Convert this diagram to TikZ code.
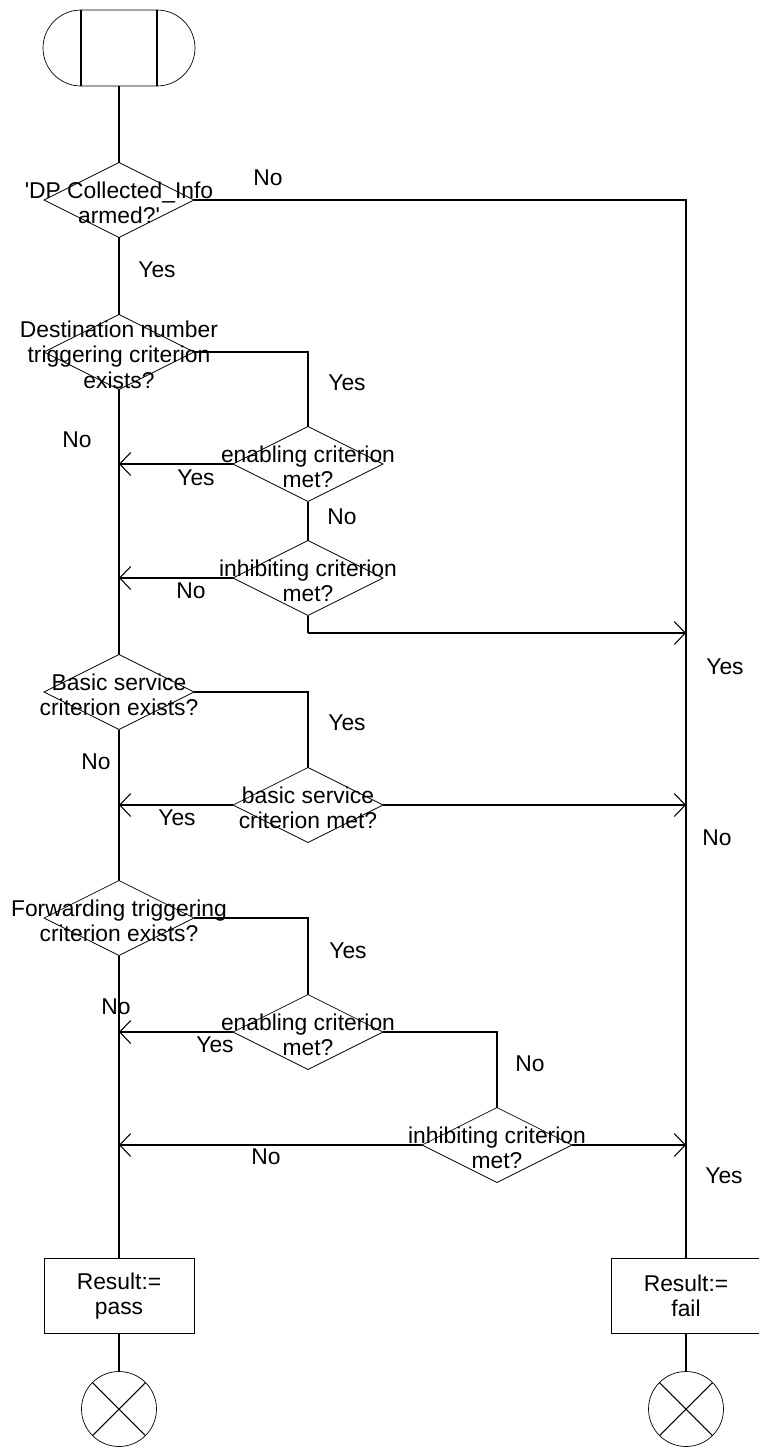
\documentclass[tikz,border=0pt]{standalone}
\usepackage{fontspec}
\setmainfont{Liberation Sans}[Ligatures=TeXOff]
\usetikzlibrary{arrows.meta, positioning, calc, shapes.geometric, shapes.misc}
\tikzset{
  dec/.style={
    draw, diamond, minimum width=3cm, minimum height=1.5cm,
    inner sep=0pt, outer sep=0pt
  },
  dtxt/.style={font=\fontsize{13}{14.5}\selectfont, align=center, inner sep=0pt, yshift=-1.5pt},
  res/.style={
    draw, rectangle, minimum width=3cm, minimum height=1.5cm,
    inner sep=0pt, outer sep=0pt, align=center,
    font=\fontsize{13}{14.5}\selectfont
  },
  term/.style={
    draw, rounded rectangle, minimum width=3.04cm, minimum height=1.52cm,
    inner sep=0pt, outer sep=0pt
  },
  stopc/.style={draw, circle, minimum size=1.5cm, inner sep=0pt, outer sep=0pt},
  line/.style={line width=0.6pt},
  sig/.style={line, -{Straight Barb[length=2.2mm, width=4.6mm, line width=0.6pt]}},
  lbl/.style={font=\fontsize{13}{14.5}\selectfont, inner sep=0pt}
}

\begin{document}
\begin{tikzpicture}[x=0.02cm, y=-0.02cm]
  \useasboundingbox (0,0) rectangle (759,1447);

  % main column
  \node[term] (start) at (119,48)  {};
  \node[dec]  (d1)    at (119,200) {};
  \node[dec]  (d2)    at (119,352) {};
  \node[dec]  (d5)    at (119,692) {};
  \node[dec]  (d7)    at (119,918) {};
  \node[res]  (pass)  at (119,1296) {Result:=\\pass};
  \node[stopc] (end1) at (119,1409) {};

  % branches
  \node[dec]  (d3)    at (308,464)  {};
  \node[dec]  (d4)    at (308,578)  {};
  \node[dec]  (d6)    at (308,805)  {};
  \node[dec]  (d8)    at (308,1032) {};
  \node[dec]  (d9)    at (497,1145) {};
  \node[res]  (fail)  at (686,1296) {Result:=\\fail};
  \node[stopc] (end2) at (686,1409) {};

  % diamond texts
  \node[dtxt] at (d1) {'DP Collected\_Info\\armed?'};
  \node[dtxt] at (d2) {Destination number\\triggering criterion\\exists?};
  \node[dtxt] at (d3) {enabling criterion\\met?};
  \node[dtxt] at (d4) {inhibiting criterion\\met?};
  \node[dtxt] at (d5) {Basic service\\criterion exists?};
  \node[dtxt] at (d6) {basic service\\criterion met?};
  \node[dtxt] at (d7) {Forwarding triggering\\criterion exists?};
  \node[dtxt] at (d8) {enabling criterion\\met?};
  \node[dtxt] at (d9) {inhibiting criterion\\met?};

  \draw[line] ($(start.north)+(-38,0)$) -- ($(start.south)+(-38,0)$);
  \draw[line] ($(start.north)+(38,0)$)  -- ($(start.south)+(38,0)$);
  \draw[line] (end1.north east) -- (end1.south west);
  \draw[line] (end1.north west) -- (end1.south east);
  \draw[line] (end2.north east) -- (end2.south west);
  \draw[line] (end2.north west) -- (end2.south east);

  \coordinate (j4) at (308,633);

  \draw[line] (start) -- (d1);
  \draw[line] (d1) -- (d2);
  \draw[line] (d1.east) -| (fail.north);
  \draw[line] (d2) -- (d5);
  \draw[line] (d5) -- (d7);
  \draw[line] (d7) -- (pass);
  \draw[line] (pass) -- (end1);
  \draw[line] (fail) -- (end2);

  \draw[line] (d2.east) -| (d3.north);
  \draw[sig]  (d3.west) -- (d3.west -| d2);
  \draw[line] (d3) -- (d4);
  \draw[sig]  (d4.west) -- (d4.west -| d2);
  \draw[line] (d4.south) -- (j4);
  \draw[sig]  (j4) -- (j4 -| fail);

  \draw[line] (d5.east) -| (d6.north);
  \draw[sig]  (d6.west) -- (d6.west -| d5);
  \draw[sig]  (d6.east) -- (d6.east -| fail);

  \draw[line] (d7.east) -| (d8.north);
  \draw[sig]  (d8.west) -- (d8.west -| d7);
  \draw[line] (d8.east) -| (d9.north);
  \draw[sig]  (d9.west) -- (d9.west -| d7);
  \draw[sig]  (d9.east) -- (d9.east -| fail);

  % branch labels
  \node[lbl] at (268,178)  {No};
  \node[lbl] at (157,270)  {Yes};
  \node[lbl] at (347,383)  {Yes};
  \node[lbl] at (77,440)   {No};
  \node[lbl] at (196,478)  {Yes};
  \node[lbl] at (342,517)  {No};
  \node[lbl] at (191,591)  {No};
  \node[lbl] at (725,667)  {Yes};
  \node[lbl] at (347,723)  {Yes};
  \node[lbl] at (96,762)   {No};
  \node[lbl] at (177,818)  {Yes};
  \node[lbl] at (717,838)  {No};
  \node[lbl] at (348,951)  {Yes};
  \node[lbl] at (116,1007) {No};
  \node[lbl] at (215,1045) {Yes};
  \node[lbl] at (530,1064) {No};
  \node[lbl] at (266,1157) {No};
  \node[lbl] at (724,1176) {Yes};
\end{tikzpicture}
\end{document}
